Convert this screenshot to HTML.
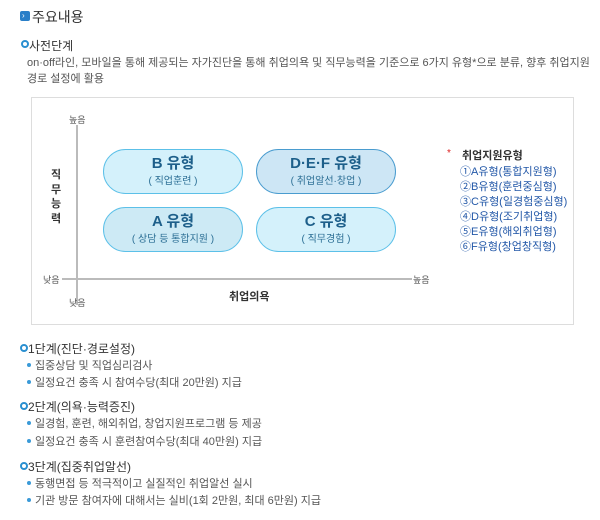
<!DOCTYPE html>
<html><head><meta charset="utf-8"><style>
body{margin:0;width:600px;height:520px;background:#fff;position:relative;overflow:hidden;font-family:"Liberation Sans","Noto Sans CJK KR",sans-serif;color:#555}
.a{position:absolute;white-space:nowrap}
.t{font-size:11px;color:#555}
.h{font-size:12px;color:#333}
.ci{position:absolute;width:4px;height:4px;border:2px solid #2a8fd0;border-radius:50%}
.dot{position:absolute;width:4px;height:4px;background:#3a9ad8;border-radius:50%}
.pill{position:absolute;width:140px;height:45px;border-radius:23px;border:1.5px solid #5cc0e8;background:#d4f1fb;text-align:center;box-sizing:border-box}
.pill b{display:block;font-size:15px;line-height:18px;color:#1d5f8a;margin-top:5px}
.pill span{display:block;font-size:10px;line-height:13px;color:#2c6f95;margin-top:2px}
.lg{font-size:11px;color:#2358a8;left:460px}
</style></head><body>
<div class="a" style="left:20px;top:11px;width:10px;height:10px;background:#2a7fc8;border-radius:2px"></div>
<div class="a" style="left:22px;top:11px;color:#fff;font-size:8px;line-height:10px">›</div>
<div class="a" style="left:32px;top:7px;font-size:14px;color:#333">주요내용</div>
<div class="ci" style="left:21px;top:40px"></div>
<div class="a h" style="left:29px;top:37px">사전단계</div>
<div class="a t" style="left:27px;top:54px">on·off라인, 모바일을 통해 제공되는 자가진단을 통해 취업의욕 및 직무능력을 기준으로 6가지 유형*으로 분류, 향후 취업지원</div>
<div class="a t" style="left:27px;top:70px">경로 설정에 활용</div>
<div class="a" style="left:31px;top:97px;width:541px;height:226px;border:1px solid #ddd"></div>
<div class="a" style="left:76px;top:125px;width:2px;height:180px;background:#bbb"></div>
<div class="a" style="left:62px;top:278px;width:350px;height:2px;background:#bbb"></div>
<div class="a" style="left:69px;top:113px;font-size:9px">높음</div>
<div class="a" style="left:43px;top:273px;font-size:9px">낮음</div>
<div class="a" style="left:413px;top:273px;font-size:9px">높음</div>
<div class="a" style="left:69px;top:296px;font-size:9px">낮음</div>
<div class="a" style="left:229px;top:288px;font-size:11px;font-weight:bold;color:#333">취업의욕</div>
<div class="a" style="left:51px;top:168px;font-size:11px;font-weight:bold;color:#333;line-height:14.5px;white-space:normal;width:12px">직<br>무<br>능<br>력</div>
<div class="pill" style="left:103px;top:149px"><b>B 유형</b><span>( 직업훈련 )</span></div>
<div class="pill" style="left:256px;top:149px;background:#cde6f5;border-color:#4a9ccf"><b>D·E·F 유형</b><span>( 취업알선·창업 )</span></div>
<div class="pill" style="left:103px;top:207px;background:#cdeaf5"><b>A 유형</b><span>( 상담 등 통합지원 )</span></div>
<div class="pill" style="left:256px;top:207px"><b>C 유형</b><span>( 직무경험 )</span></div>
<div class="a" style="left:447px;top:148px;color:#d22;font-size:10px">*</div>
<div class="a" style="left:462px;top:147px;font-size:11px;font-weight:bold;color:#333">취업지원유형</div>
<div class="a lg" style="top:163px">①A유형(통합지원형)</div>
<div class="a lg" style="top:178px">②B유형(훈련중심형)</div>
<div class="a lg" style="top:193px">③C유형(일경험중심형)</div>
<div class="a lg" style="top:208px">④D유형(조기취업형)</div>
<div class="a lg" style="top:223px">⑤E유형(해외취업형)</div>
<div class="a lg" style="top:238px">⑥F유형(창업창직형)</div>
<div class="ci" style="left:20px;top:344px"></div>
<div class="a h" style="left:28px;top:340px">1단계(진단·경로설정)</div>
<div class="dot" style="left:27px;top:363px"></div><div class="a t" style="left:35px;top:357px">집중상담 및 직업심리검사</div>
<div class="dot" style="left:27px;top:380px"></div><div class="a t" style="left:35px;top:374px">일정요건 충족 시 참여수당(최대 20만원) 지급</div>
<div class="ci" style="left:20px;top:402px"></div>
<div class="a h" style="left:28px;top:398px">2단계(의욕·능력증진)</div>
<div class="dot" style="left:27px;top:421px"></div><div class="a t" style="left:35px;top:415px">일경험, 훈련, 해외취업, 창업지원프로그램 등 제공</div>
<div class="dot" style="left:27px;top:439px"></div><div class="a t" style="left:35px;top:433px">일정요건 충족 시 훈련참여수당(최대 40만원) 지급</div>
<div class="ci" style="left:20px;top:462px"></div>
<div class="a h" style="left:28px;top:458px">3단계(집중취업알선)</div>
<div class="dot" style="left:27px;top:481px"></div><div class="a t" style="left:35px;top:475px">동행면접 등 적극적이고 실질적인 취업알선 실시</div>
<div class="dot" style="left:27px;top:498px"></div><div class="a t" style="left:35px;top:492px">기관 방문 참여자에 대해서는 실비(1회 2만원, 최대 6만원) 지급</div>
</body></html>
